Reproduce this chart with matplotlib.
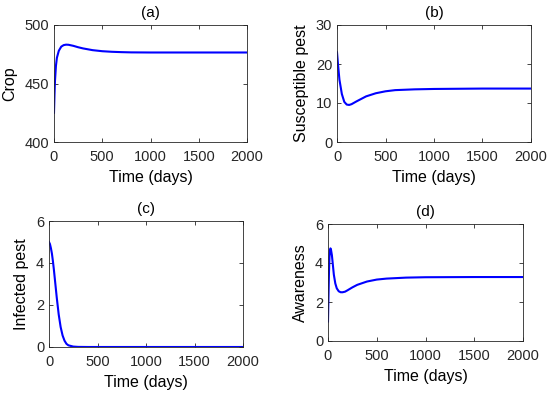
import matplotlib.pyplot as plt

plt.rcParams['font.family'] = ['Liberation Sans', 'DejaVu Sans']

t_crop = [0, 5, 10, 20, 30, 50, 75, 100, 125, 150, 200, 250, 300, 400, 500, 600, 700, 800, 1000, 1500, 2000]
crop = [425, 440, 452, 465, 472, 478, 481.5, 482.8, 483.2, 483.1, 482.2, 481, 480, 478.5, 477.6, 477.1, 476.8, 476.6, 476.5, 476.5, 476.5]

t_sus = [0, 10, 25, 50, 75, 100, 125, 150, 200, 300, 400, 500, 600, 800, 1000, 1500, 2000]
sus = [23, 20, 16, 12.3, 10.3, 9.6, 9.5, 9.7, 10.4, 11.7, 12.5, 13.0, 13.3, 13.5, 13.6, 13.7, 13.7]

t_inf = [0, 10, 20, 30, 40, 50, 60, 70, 80, 90, 100, 120, 140, 160, 180, 200, 250, 300, 400, 2000]
inf = [5.0, 4.9, 4.7, 4.45, 4.1, 3.7, 3.25, 2.8, 2.35, 1.95, 1.55, 0.95, 0.55, 0.3, 0.15, 0.08, 0.02, 0.005, 0, 0]

t_aw = [0, 5, 10, 15, 20, 25, 30, 40, 50, 60, 75, 90, 110, 130, 150, 175, 200, 250, 300, 400, 500, 600, 800, 1000, 1500, 2000]
aw = [1.0, 2.3, 3.5, 4.3, 4.65, 4.75, 4.7, 4.4, 3.9, 3.4, 2.95, 2.7, 2.55, 2.5, 2.5, 2.53, 2.6, 2.75, 2.88, 3.05, 3.15, 3.2, 3.25, 3.27, 3.28, 3.28]

W, H = 550, 396
fig = plt.figure(figsize=(5.5, 3.96), dpi=100)

def box(l, t, r, b):
    return [l / W, 1 - b / H, (r - l) / W, (b - t) / H]

panels = [
    (box(54, 25, 247, 142), t_crop, crop, (400, 500), [400, 450, 500], 'Crop', '(a)'),
    (box(337, 25, 531, 142), t_sus, sus, (0, 30), [0, 10, 20, 30], 'Susceptible pest', '(b)'),
    (box(49, 221, 243, 347), t_inf, inf, (0, 6), [0, 2, 4, 6], 'Infected pest', '(c)'),
    (box(328, 224, 523, 341), t_aw, aw, (0, 6), [0, 2, 4, 6], 'Awareness', '(d)'),
]

for pos, tt, yy, ylim, yt, ylab, ttl in panels:
    ax = fig.add_axes(pos)
    ax.plot(tt, yy, color='blue', lw=1.5)
    ax.set_xlim(0, 2000)
    ax.set_ylim(*ylim)
    ax.set_xticks([0, 500, 1000, 1500, 2000])
    ax.set_yticks(yt)
    ax.tick_params(direction='in', top=True, right=True, labelsize=10.5, length=3, width=0.6, colors='#262626')
    ax.tick_params(axis='x', pad=6)
    for s in ax.spines.values():
        s.set_linewidth(0.6)
        s.set_color('#262626')
    ax.set_xlabel('Time (days)', fontsize=11.5, labelpad=4)
    ax.set_ylabel(ylab, fontsize=11.5, labelpad=5)
    ax.set_title(ttl, fontsize=11, pad=5.5)

fig.savefig('out.png', dpi=100)
